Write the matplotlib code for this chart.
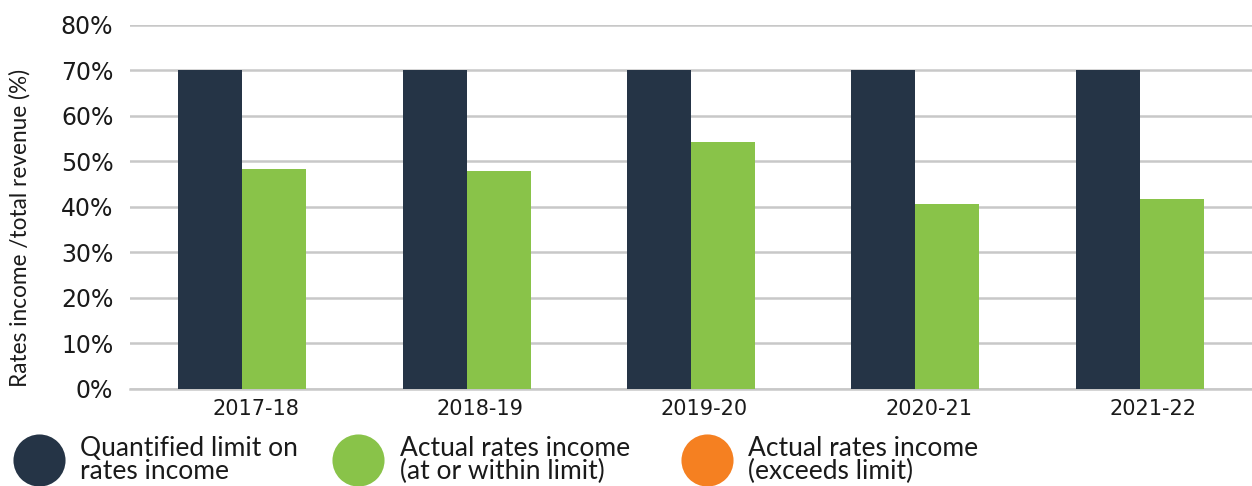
import matplotlib
matplotlib.use("Agg")
import matplotlib.pyplot as plt
import numpy as np
from matplotlib.lines import Line2D

categories = ["2017-18", "2018-19", "2019-20", "2020-21", "2021-22"]
limit_values = [70, 70, 70, 70, 70]
actual_values = [48.4, 47.9, 54.3, 40.7, 41.8]
y_ticks = [0, 10, 20, 30, 40, 50, 60, 70, 80]
legend_labels = ["Quantified limit on\nrates income",
                 "Actual rates income\n(at or within limit)",
                 "Actual rates income\n(exceeds limit)"]

c_dark = "#253446"
c_green = "#89c349"
c_orange = "#f58021"

plt.rcParams['font.family'] = ['Lato', 'DejaVu Sans']

fig = plt.figure(figsize=(12.52, 4.86), dpi=100)
ax = fig.add_axes([0.1038, 0.1996, 0.8962, 0.749])

x = np.arange(len(categories))
w = 0.285
ax.bar(x - w / 2, limit_values, width=w, color=c_dark, zorder=3)
ax.bar(x + w / 2, actual_values, width=w, color=c_green, zorder=3)

ax.set_xlim(-0.5, len(categories) - 0.5)
ax.set_ylim(0, 80)
ax.set_yticks(y_ticks)
ax.set_yticklabels([f"{v}%" for v in y_ticks], fontsize=17, color="#1a1a1a",
                   family="DejaVu Sans")
ax.set_xticks(x + 0.06)
ax.set_xticklabels(categories, fontsize=15, color="#1a1a1a", family="DejaVu Sans")
ax.tick_params(axis='both', length=0)
ax.tick_params(axis='y', pad=12)
ax.tick_params(axis='x', pad=7)
ax.grid(axis='y', color="#c8c8c8", linewidth=1.8, zorder=0)
for s in ["top", "right", "left"]:
    ax.spines[s].set_visible(False)
ax.spines["bottom"].set_color("#c8c8c8")
ax.spines["bottom"].set_linewidth(1.8)

fig.text(0.016, 0.531, "Rates income /total revenue (%)", rotation=90,
         ha="center", va="center", fontsize=16.3, color="#1a1a1a")

# legend
colors = [c_dark, c_green, c_orange]
circle_x = [39, 358, 707]
text_x = [80, 400, 748]
ly = 486 - 460
for cx, tx, col, lab in zip(circle_x, text_x, colors, legend_labels):
    fig.add_artist(Line2D([cx / 1252], [ly / 486], marker='o', markersize=37.5,
                          color=col, markeredgewidth=0, transform=fig.transFigure))
    fig.text(tx / 1252, ly / 486, lab, ha="left", va="center", fontsize=19,
             color="#1a1a1a", linespacing=0.92)

fig.savefig("out.png", dpi=100)
